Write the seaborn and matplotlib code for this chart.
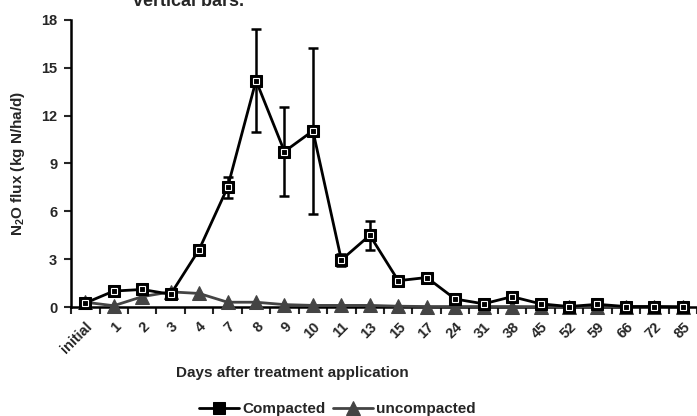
import matplotlib
matplotlib.use("Agg")
import matplotlib.pyplot as plt
import matplotlib.transforms as mtransforms
import seaborn as sns
import numpy as np
import pandas as pd

days = ["initial", "1", "2", "3", "4", "7", "8", "9", "10", "11", "13", "15",
        "17", "24", "31", "38", "45", "52", "59", "66", "72", "85"]
compacted = [0.25, 1.0, 1.1, 0.8, 3.6, 7.5, 14.2, 9.75, 11.05, 2.95, 4.5, 1.65,
             1.85, 0.5, 0.2, 0.65, 0.2, 0.03, 0.17, 0.03, 0.03, 0.0]
compacted_err = [0.1, 0.15, 0.15, 0.15, 0.3, 0.65, 3.25, 2.8, 5.2, 0.35, 0.9, 0.2,
                 0.2, 0.1, 0.05, 0.1, 0.05, 0.02, 0.05, 0.02, 0.02, 0.0]
uncompacted = [0.3, 0.08, 0.65, 0.95, 0.85, 0.3, 0.3, 0.15, 0.1, 0.1, 0.1, 0.05,
               0.03, 0.03, 0.03, 0.03, 0.02, 0.02, 0.02, 0.02, 0.02, 0.02]

sns.set_style("ticks")
plt.rcParams["font.family"] = ["Liberation Sans", "DejaVu Sans"]
plt.rcParams["mathtext.fontset"] = "custom"
plt.rcParams["mathtext.rm"] = "Liberation Sans:bold"
plt.rcParams["mathtext.it"] = "Liberation Sans:bold"
plt.rcParams["mathtext.bf"] = "Liberation Sans:bold"

fig = plt.figure(figsize=(6.97, 4.16), dpi=100)
ax = fig.add_axes([0.102, 0.262, 0.898, 0.690])

x = np.arange(len(days))
df = pd.DataFrame({"x": x, "Compacted": compacted, "uncompacted": uncompacted})

gray = "#444444"
ax.errorbar(x, compacted, yerr=compacted_err, fmt="none", ecolor="black",
            elinewidth=1.8, capsize=3.8, capthick=1.8, zorder=3, clip_on=False)
sns.lineplot(data=df, x="x", y="uncompacted", ax=ax, color=gray, lw=2.0,
             marker="^", markersize=10, markerfacecolor=gray, markeredgecolor=gray,
             label="uncompacted", zorder=4, clip_on=False)
sns.lineplot(data=df, x="x", y="Compacted", ax=ax, color="black", lw=2.0,
             marker="s", markersize=8.5, markerfacecolor="black", markeredgecolor="black",
             label="Compacted", zorder=5, clip_on=False)
ax.plot(x, compacted, ls="none", marker="s", markersize=5, markerfacecolor="none",
        markeredgecolor="white", markeredgewidth=0.8, zorder=6, clip_on=False)

ax.set_xlim(-0.5, len(days) - 0.5)
ax.set_ylim(0, 18)
ax.set_yticks(np.arange(0, 19, 3))
ax.set_yticklabels([str(v) for v in range(0, 19, 3)], fontsize=10.5, fontweight="bold")
ax.set_xticks(np.arange(-0.5, len(days), 1.0))
ax.set_xticklabels([])
ax.set_xticks(x, minor=True)
ax.set_xticklabels(days, minor=True, rotation=45, ha="right", va="top",
                   rotation_mode="anchor", fontsize=10.5, fontweight="bold")
shift = mtransforms.ScaledTranslation(-5 / 100, 0, fig.dpi_scale_trans)
for lab in ax.get_xticklabels(minor=True):
    lab.set_transform(lab.get_transform() + shift)
ax.tick_params(axis="x", which="major", direction="out", length=5, width=1.5)
ax.tick_params(axis="x", which="minor", length=0, pad=9)
ax.tick_params(axis="y", direction="out", length=5, width=1.5, pad=5)

sns.despine(ax=ax)
for s in ["left", "bottom"]:
    ax.spines[s].set_linewidth(1.8)
    ax.spines[s].set_color("black")

ax.set_xlabel("Days after treatment application", fontsize=11, fontweight="bold")
ax.set_ylabel(r"N$_2$O flux (kg N/ha/d)", fontsize=11, fontweight="bold")
ax.xaxis.set_label_coords(0.354, -0.205)
ax.yaxis.set_label_coords(-0.071, 0.5)

handles, labels = ax.get_legend_handles_labels()
order = [labels.index("Compacted"), labels.index("uncompacted")]
leg = ax.legend([handles[i] for i in order], [labels[i] for i in order],
                loc="center", bbox_to_anchor=(0.484, 0.017), bbox_transform=fig.transFigure,
                ncol=2, frameon=False, handlelength=2.6, columnspacing=0.5,
                handletextpad=0.2, prop={"weight": "bold", "size": 11})

fig.text(0.191, 1 - 6 / 416, "vertical bars.", fontsize=13, fontweight="bold",
         va="baseline", ha="left")

fig.savefig("out.png", dpi=100)
